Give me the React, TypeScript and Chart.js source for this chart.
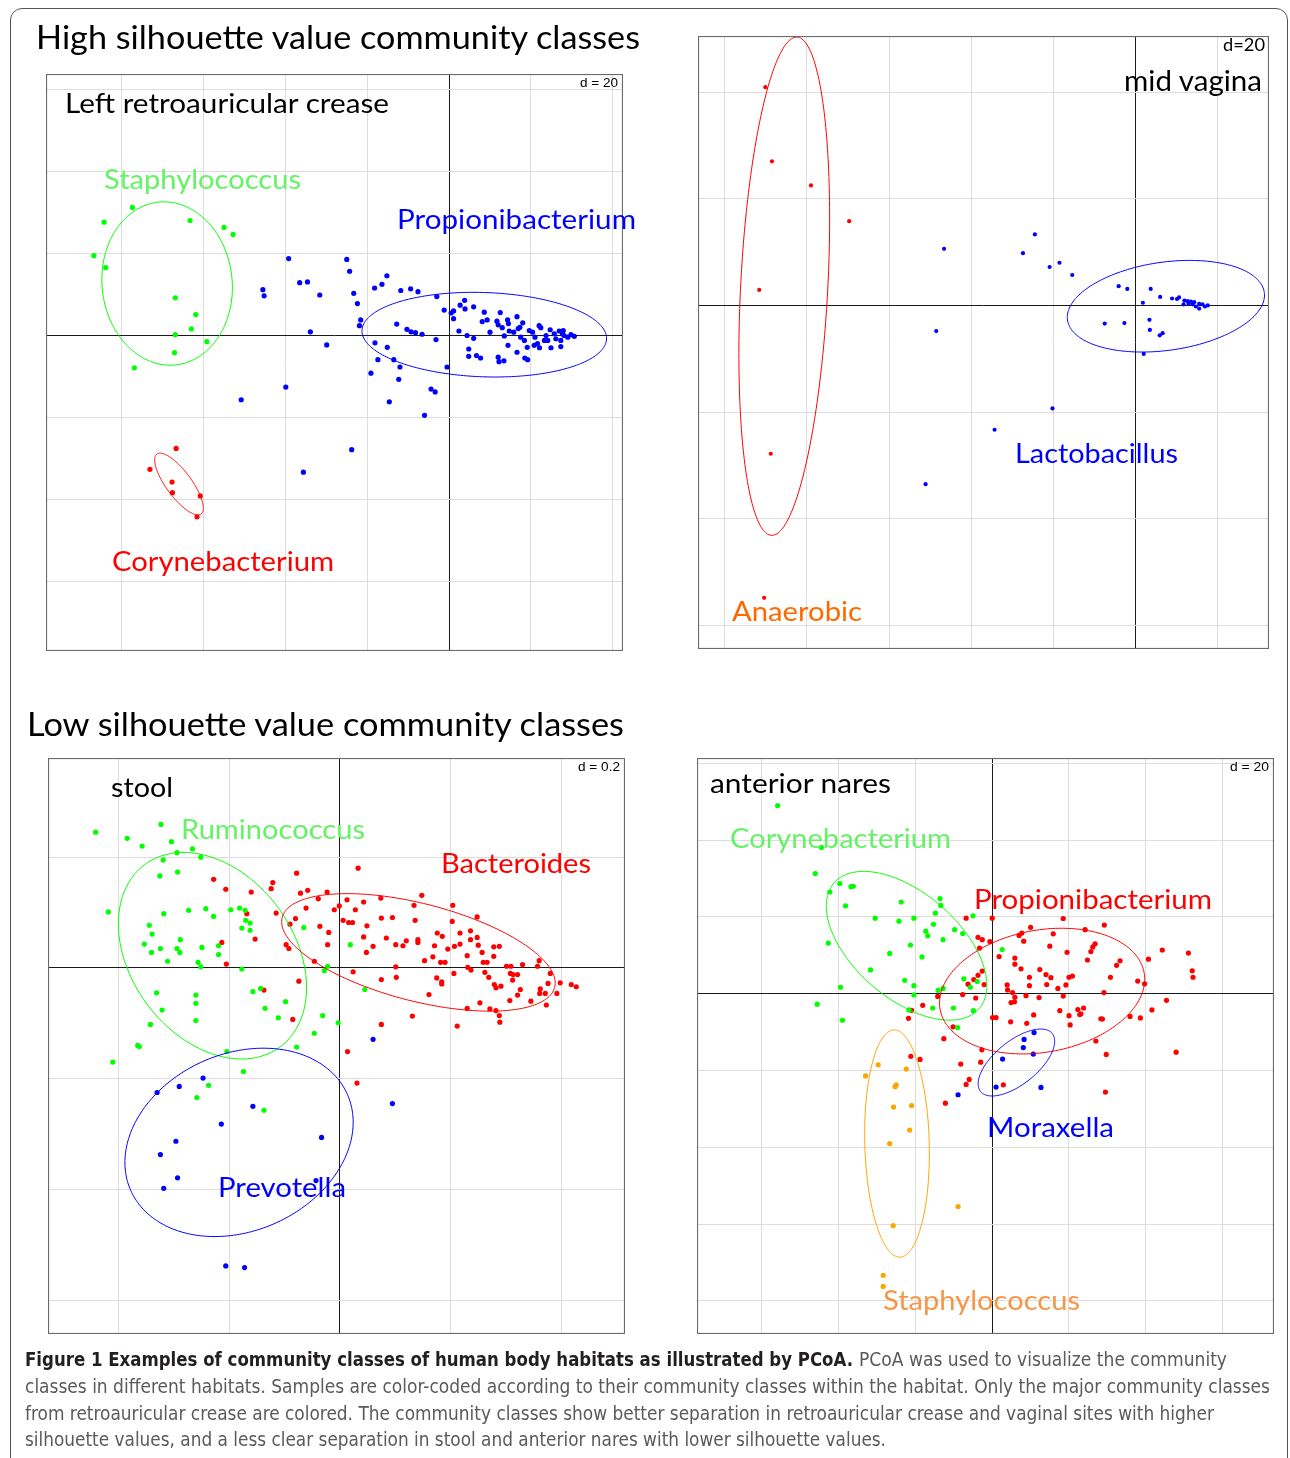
import React, { useEffect, useRef } from "react";
import { Chart, registerables } from "chart.js";

Chart.register(...registerables);

type Pt = [number, number];
type Ell = { cx: number; cy: number; a: number; b: number; angle: number; color: string };

// ---------------- DATA ----------------
// Panel 1: Left retroauricular crease (d = 20)
const retroStaphylococcus: Pt[] = [
  [-84.3, 27.7], [-77.4, 31.3], [-63.3, 28.1], [-55.0, 26.4], [-52.8, 24.7], [-86.8, 19.5], [-83.9, 16.6],
  [-66.9, 9.2], [-61.9, 5.1], [-63.0, 1.6], [-66.9, 0.2], [-59.2, -1.5], [-67.1, -4.2], [-76.9, -7.9],
];
const retroCorynebacterium: Pt[] = [
  [-66.7, -27.6], [-73.1, -32.7], [-67.7, -35.8], [-67.6, -38.4], [-60.8, -39.2], [-61.6, -44.3],
];
const retroPropionibacterium: Pt[] = [
  [-39.2, 18.8], [-25.0, 18.6], [-24.3, 15.7], [-45.5, 11.2], [-45.2, 9.7], [-36.5, 12.9], [-34.6, 13.1],
  [-31.6, 9.9], [-23.3, 10.3], [-22.4, 7.8], [-15.2, 14.6], [-16.4, 12.5], [-18.2, 11.6], [-11.8, 11.0],
  [-9.4, 11.4], [-7.6, 10.7], [-3.0, 9.5], [-21.6, 3.8], [-21.9, 2.4], [-33.9, 0.9], [-29.9, -2.3],
  [-12.8, 2.8], [-10.3, 1.5], [-9.3, 0.9], [-8.2, 0.7], [-6.6, 0.3], [-3.2, -1.0], [-18.1, -1.8],
  [-15.1, -2.9], [-17.4, -5.9], [-13.5, -5.9], [-12.0, -7.7], [-19.1, -9.2], [-12.3, -10.7], [-0.5, -7.7],
  [-4.4, -13.1], [-3.4, -13.8], [-14.6, -16.2], [-6.0, -19.5], [-39.9, -12.6], [-50.8, -15.7], [-35.6, -33.4],
  [-23.8, -27.9], [-1.2, 6.2], [0.5, 5.5], [1.1, 6.0], [1.1, 4.1], [2.7, 7.4], [3.8, 8.6], [3.9, 6.5],
  [6.0, 7.0], [8.6, 5.7], [9.3, 3.8], [8.1, 3.4], [12.5, 5.6], [11.7, 3.5], [12.0, 2.6], [14.3, 3.8],
  [14.5, 2.9], [16.6, 4.6], [18.0, 3.1], [2.4, 1.1], [4.4, 0], [6.0, -0.7], [10.0, 0.8], [13.0, 1.9],
  [13.5, -0.1], [14.7, 1.1], [15.8, 0.8], [16.9, 1.7], [17.3, 2.0], [17.5, -0.4], [18.4, -1.2], [19.1, -2.9],
  [19.6, 1.2], [20.4, 0.8], [21.0, -0.4], [21.6, -2.0], [22.1, -3.0], [22.0, 2.4], [22.4, 1.9], [23.7, 0],
  [24.1, -1.2], [24.7, 1.4], [24.9, -3.0], [25.7, 0.4], [26.1, -0.8], [26.9, 1.1], [27.3, -1.2], [27.3, -2.7],
  [28.1, 0], [29.0, -0.4], [29.8, 0.2], [30.6, -0.2], [27.9, 1.2], [27.7, 0.4], [23.3, -1.2], [20.8, -2.4],
  [14.4, -2.4], [16.6, -4.1], [4.8, -3.3], [4.8, -5.1], [6.7, -4.9], [7.7, -5.5], [12.0, -5.3], [12.2, -6.4],
  [13.4, -6.2], [18.5, -5.5], [19.2, -5.9],
];
const retroEllipses: Ell[] = [
  { cx: -68.9, cy: 12.7, a: 20.0, b: 15.9, angle: 96, color: "#00ff00" },
  { cx: -66.0, cy: -36.3, a: 9.1, b: 3.1, angle: -53.6, color: "#ff0000" },
  { cx: 8.6, cy: 0.2, a: 29.9, b: 10.3, angle: -2, color: "#0000ff" },
];

// Panel 2: mid vagina (d = 20)
const vagAnaerobic: Pt[] = [
  [-90.1, 40.9], [-88.5, 27.0], [-79.0, 22.5], [-69.7, 15.8], [-91.6, 2.9], [-88.8, -27.8], [-90.4, -54.8],
];
const vagLactobacillus: Pt[] = [
  [-46.6, 10.6], [-24.5, 13.3], [-27.4, 9.8], [-20.9, 7.2], [-18.5, 8.0], [-15.4, 5.7], [-48.5, -4.8],
  [-20.2, -19.3], [-34.3, -23.3], [-51.1, -33.5], [-4.1, 3.6], [-2.0, 3.1], [3.7, 3.1], [6.0, 1.6],
  [8.9, 1.3], [10.1, 1.2], [10.6, 1.5], [1.8, 0.5], [11.9, 0.9], [12.7, 0.8], [13.5, 0.7], [14.3, 0.6],
  [11.7, 0.2], [14.7, -0.2], [15.5, -0.6], [15.5, 0.3], [16.3, 0.2], [16.9, -0.2], [17.6, 0], [12.9, 0.3],
  [13.9, 0.2], [-7.5, -3.4], [-2.7, -3.3], [3.4, -2.7], [3.5, -4.6], [5.9, -5.6], [6.6, -5.2], [2.0, -9.1],
];
const vagEllipses: Ell[] = [
  { cx: -85.5, cy: 3.6, a: 46.8, b: 10.6, angle: 86.1, color: "#ff0000" },
  { cx: 7.4, cy: -0.15, a: 24.1, b: 8.3, angle: 5.6, color: "#0000ff" },
];

// Panel 3: stool (d = 0.2)
const stoolRuminococcus: Pt[] = [
  [-0.441, 0.245], [-0.384, 0.234], [-0.357, 0.22], [-0.323, 0.259], [-0.304, 0.228], [-0.294, 0.208],
  [-0.266, 0.215], [-0.251, 0.2], [-0.319, 0.195], [-0.325, 0.166], [-0.293, 0.173], [-0.418, 0.101],
  [-0.318, 0.098], [-0.273, 0.104], [-0.242, 0.107], [-0.228, 0.093], [-0.197, 0.105], [-0.181, 0.108],
  [-0.171, 0.104], [-0.17, 0.086], [-0.162, 0.081], [-0.177, 0.072], [-0.162, 0.068], [-0.344, 0.077],
  [-0.339, 0.061], [-0.353, 0.043], [-0.34, 0.028], [-0.324, 0.035], [-0.311, 0.012], [-0.288, 0.051],
  [-0.294, 0.035], [-0.289, 0.028], [-0.249, 0.037], [-0.256, 0.01], [-0.251, 0.002], [-0.219, 0.04],
  [-0.219, 0.024], [-0.177, -0.002], [-0.065, 0.073], [0.019, 0.042], [-0.028, -0.005], [-0.022, 0.003],
  [-0.331, -0.045], [-0.26, -0.049], [-0.26, -0.064], [-0.321, -0.076], [-0.342, -0.102], [-0.26, -0.095],
  [-0.157, -0.043], [-0.143, -0.037], [-0.135, -0.073], [-0.098, -0.061], [-0.111, -0.09], [-0.031, -0.086],
  [-0.046, -0.118], [-0.003, -0.099], [-0.078, -0.143], [-0.365, -0.14], [-0.362, -0.142], [-0.41, -0.17],
  [-0.204, -0.151], [-0.174, -0.187], [-0.237, -0.212], [-0.258, -0.234], [-0.137, -0.257], [0.045, -0.039],
];
const stoolBacteroides: Pt[] = [
  [-0.228, 0.16], [-0.206, 0.142], [-0.16, 0.137], [-0.168, 0.098], [-0.153, 0.052], [-0.213, 0.046],
  [-0.205, 0.007], [-0.121, 0.154], [-0.124, 0.143], [-0.078, 0.171], [-0.071, 0.135], [-0.058, 0.14],
  [-0.039, 0.125], [-0.023, 0.137], [-0.061, 0.108], [-0.115, 0.099], [-0.08, 0.089], [-0.09, 0.079],
  [-0.036, 0.075], [-0.02, 0.064], [-0.022, 0.042], [-0.097, 0.042], [-0.092, 0.035], [-0.046, 0.012],
  [-0.01, 0.105], [-0.001, 0.112], [0.013, 0.123], [0.028, 0.105], [0.006, 0.086], [0.016, 0.082],
  [0.023, 0.082], [0.033, 0.18], [0.024, -0.007], [-0.074, -0.024], [-0.137, -0.04], [-0.085, -0.093],
  [0.014, -0.151], [0.031, -0.208], [0.043, 0.119], [0.074, 0.126], [0.075, 0.09], [0.095, 0.091],
  [0.049, 0.076], [0.043, 0.056], [0.048, 0.028], [0.06, 0.039], [0.084, 0.054], [0.101, 0.042],
  [0.114, 0.04], [0.12, 0.049], [0.134, 0.113], [0.136, 0.086], [0.148, 0.131], [0.141, 0.051],
  [0.141, 0.046], [0.153, 0.013], [0.168, 0.02], [0.171, 0.04], [0.176, 0.063], [0.185, 0.057],
  [0.182, 0.01], [0.19, 0.01], [0.195, 0.034], [0.204, 0.113], [0.203, 0.084], [0.207, 0.039],
  [0.217, 0.063], [0.217, 0.043], [0.236, 0.067], [0.236, 0.051], [0.248, 0.092], [0.248, 0.055],
  [0.25, 0.041], [0.257, 0.028], [0.23, 0.022], [0.259, 0.01], [0.266, 0.01], [0.278, 0.021],
  [0.278, 0.038], [0.288, 0.039], [0.101, 0.002], [0.102, -0.017], [0.075, -0.021], [0.206, -0.01],
  [0.231, 0.001], [0.237, -0.004], [0.175, -0.018], [0.184, -0.025], [0.184, -0.029], [0.161, -0.048],
  [0.262, -0.008], [0.269, -0.017], [0.279, -0.03], [0.282, -0.036], [0.291, -0.033], [0.301, 0.003],
  [0.309, 0.003], [0.33, 0.006], [0.357, 0.003], [0.36, 0.013], [0.308, -0.01], [0.313, -0.012],
  [0.321, -0.012], [0.326, -0.039], [0.312, -0.022], [0.321, -0.049], [0.307, -0.059], [0.345, -0.06],
  [0.362, -0.038], [0.361, -0.046], [0.371, -0.046], [0.376, -0.028], [0.38, -0.01], [0.392, -0.046],
  [0.398, -0.027], [0.418, -0.03], [0.427, -0.034], [0.373, -0.067], [0.253, -0.063], [0.23, -0.073],
  [0.271, -0.074], [0.282, -0.077], [0.288, -0.086], [0.289, -0.098], [0.212, -0.105], [0.131, -0.087],
  [0.075, -0.102],
];
const stoolPrevotella: Pt[] = [
  [0.06, -0.129], [-0.33, -0.225], [-0.29, -0.214], [-0.247, -0.199], [-0.157, -0.25], [-0.214, -0.282],
  [-0.296, -0.313], [-0.324, -0.337], [-0.293, -0.379], [-0.318, -0.398], [-0.033, -0.306], [-0.043, -0.384],
  [-0.206, -0.538], [-0.172, -0.541], [0.095, -0.245],
];
const stoolEllipses: Ell[] = [
  { cx: -0.23, cy: 0.022, a: 0.205, b: 0.147, angle: -53.4, color: "#00ff00" },
  { cx: 0.142, cy: 0.028, a: 0.254, b: 0.088, angle: -14.4, color: "#ff0000" },
  { cx: -0.182, cy: -0.315, a: 0.214, b: 0.16, angle: 23.9, color: "#0000ff" },
];

// Panel 4: anterior nares (d = 20)
const naresCorynebacterium: Pt[] = [
  [-55.9, 49.0], [-44.5, 38.1], [-46.1, 31.3], [-39.7, 28.7], [-42.3, 26.5], [-36.8, 27.9], [-36.2, 28.0],
  [-38.2, 22.9], [-30.5, 19.7], [-23.7, 23.9], [-24.3, 18.9], [-20.4, 19.7], [-13.6, 24.8], [-13.4, 23.0],
  [-14.8, 21.0], [-15.3, 18.1], [-17.3, 16.3], [-16.8, 15.1], [-9.8, 16.7], [-7.7, 15.7], [-12.8, 14.1],
  [-5.0, 20.3], [-42.7, 13.2], [-21.3, 12.7], [-26.7, 10.5], [-18.3, 9.6], [-31.7, 6.2], [-39.5, 1.7],
  [-22.8, 3.5], [-20.4, 2.1], [-20.4, -0.3], [-14.1, 0.9], [-12.8, 1.4], [-7.4, 3.9], [-5.7, 1.7],
  [-3.9, 3.2], [2.6, 11.5], [-45.6, -2.7], [-39.0, -6.9], [-21.7, -4.2], [-15.5, -3.7], [-10.1, -3.7],
  [-4.9, -4.4], [-9.0, -8.8],
];
const naresPropionibacterium: Pt[] = [
  [-6.8, 19.7], [0, 19.7], [-3.7, 14.7], [-2.6, 14.1], [-0.6, 13.6], [1.8, 9.7], [-2.6, 5.9], [-3.7, 4.8],
  [-4.8, 3.7], [-6.3, 2.5], [-2.1, 2.4], [-7.7, -0.2], [-4.3, -1.1], [-14.2, -0.7], [-18.1, -3.0],
  [-21.0, -4.3], [-21.8, -6.4], [-10.2, -8.6], [-12.6, -11.7], [0.1, -6.2], [1.0, -6.2], [3.9, 2.3],
  [4.0, 1.0], [-2.7, -14.6], [-3.0, -17.8], [-8.2, -18.3], [-18.8, -17.1], [-21.2, -16.3], [-6.0, -22.3],
  [-6.8, -23.6], [2.9, -23.7], [-3.3, 11.9], [-12.2, -28.5], [7.0, 15.2], [7.7, 15.8], [8.2, 13.7],
  [10.0, 17.3], [15.9, 15.6], [18.5, 19.6], [24.2, 16.7], [29.2, 17.9], [15.0, 12.4], [19.5, 10.8],
  [26.2, 12.2], [26.8, 13.0], [25.7, 11.0], [24.8, 8.8], [32.4, 7.4], [33.3, 8.6], [5.9, 9.3], [5.9, 7.7],
  [7.5, 6.5], [12.4, 6.3], [14.0, 5.0], [15.3, 4.2], [9.7, 4.3], [14.2, 2.4], [17.1, 1.4], [19.2, 2.3],
  [20.0, 4.3], [20.9, 4.6], [9.7, 2.1], [5.3, 0.3], [5.9, -0.9], [5.8, -2.1], [4.9, -2.3], [8.8, -0.5],
  [12.2, -1.0], [18.5, -0.6], [29.1, 0.3], [30.8, 4.3], [37.9, 3.3], [39.7, 2.6], [40.7, 9.0], [44.3, 11.4],
  [51.1, 10.6], [52.1, 6.0], [52.3, 4.3], [45.4, -1.7], [41.6, -4.2], [38.6, -6.3], [35.9, -5.9],
  [28.3, -6.5], [28.7, -6.6], [23.8, -3.7], [22.3, -4.1], [22.8, -5.4], [23.1, -5.2], [20.0, -5.7],
  [20.3, -8.1], [17.6, -4.4], [10.8, -5.5], [9.0, -7.7], [4.8, -7.3], [27.0, -12.3], [29.7, -15.8],
  [47.9, -15.2], [29.5, -25.6],
];
const naresMoraxella: Pt[] = [
  [10.9, -10.1], [8.3, -11.9], [8.1, -14.0], [10.7, -15.7], [2.7, -17.0], [1.0, -24.3], [12.7, -24.4], [-8.9, -26.3],
];
const naresStaphylococcus: Pt[] = [
  [-29.7, -18.5], [-33.0, -21.4], [-22.4, -19.6], [-25.0, -23.7], [-25.3, -24.2], [-25.7, -29.5],
  [-21.0, -29.1], [-21.5, -35.5], [-26.7, -39.0], [-8.9, -55.4], [-25.8, -60.4], [-28.4, -73.3], [-28.4, -76.2],
];
const naresEllipses: Ell[] = [
  { cx: -22.3, cy: 12.5, a: 25.0, b: 13.7, angle: -40.9, color: "#00ff00" },
  { cx: 13.0, cy: 0.7, a: 27.0, b: 15.9, angle: 10.2, color: "#ff0000" },
  { cx: 6.3, cy: -17.9, a: 12.0, b: 5.6, angle: 39, color: "#0000ff" },
  { cx: -24.8, cy: -39.0, a: 29.6, b: 8.4, angle: 91.5, color: "#ffa500" },
];

// ---------------- LAYOUT ----------------
type Series = { points: Pt[]; color: string };
type PanelSpec = {
  left: number; top: number; width: number; height: number;
  xMin: number; xMax: number; yMin: number; yMax: number; step: number; radius: number;
  series: Series[]; ellipses: Ell[];
};

const PANELS: PanelSpec[] = [
  {
    left: 46, top: 74, width: 577, height: 577, xMin: -98.5, xMax: 42.5, yMin: -77.1, yMax: 63.9, step: 20, radius: 2.6,
    series: [
      { points: retroStaphylococcus, color: "#00ff00" },
      { points: retroCorynebacterium, color: "#ff0000" },
      { points: retroPropionibacterium, color: "#0000ff" },
    ],
    ellipses: retroEllipses,
  },
  {
    left: 698, top: 36, width: 571, height: 613, xMin: -106.5, xMax: 32.5, yMin: -64.4, yMax: 50.5, step: 20, radius: 2.1,
    series: [
      { points: vagAnaerobic, color: "#ff0000" },
      { points: vagLactobacillus, color: "#0000ff" },
    ],
    ellipses: vagEllipses,
  },
  {
    left: 48, top: 758, width: 577, height: 576, xMin: -0.527, xMax: 0.515, yMin: -0.661, yMax: 0.379, step: 0.2, radius: 2.6,
    series: [
      { points: stoolRuminococcus, color: "#00ff00" },
      { points: stoolBacteroides, color: "#ff0000" },
      { points: stoolPrevotella, color: "#0000ff" },
    ],
    ellipses: stoolEllipses,
  },
  {
    left: 697, top: 758, width: 577, height: 576, xMin: -76.9, xMax: 73.4, yMin: -88.6, yMax: 61.4, step: 20, radius: 2.6,
    series: [
      { points: naresCorynebacterium, color: "#00ff00" },
      { points: naresPropionibacterium, color: "#ff0000" },
      { points: naresMoraxella, color: "#0000ff" },
      { points: naresStaphylococcus, color: "#ffa500" },
    ],
    ellipses: naresEllipses,
  },
];

type Label = { text: string; x: number; y: number; w: number; size: number; color: string; family?: string };
const LABELS: Label[] = [
  { text: "High silhouette value community classes", x: 36, y: 49, w: 604, size: 32, color: "#000" },
  { text: "Low silhouette value community classes", x: 27, y: 736, w: 597, size: 32, color: "#000" },
  { text: "Left retroauricular crease", x: 65, y: 113, w: 324, size: 27, color: "#000" },
  { text: "Staphylococcus", x: 104, y: 189, w: 197, size: 27, color: "#66f266" },
  { text: "Propionibacterium", x: 397, y: 229, w: 239, size: 27, color: "#0000ff" },
  { text: "Corynebacterium", x: 112, y: 571, w: 222, size: 27, color: "#ff0000" },
  { text: "mid vagina", x: 1124, y: 91, w: 138, size: 28, color: "#000" },
  { text: "Lactobacillus", x: 1015, y: 463, w: 163, size: 27, color: "#0000ff" },
  { text: "Anaerobic", x: 732, y: 621, w: 130, size: 27, color: "#ff6a00" },
  { text: "stool", x: 111, y: 797, w: 62, size: 27, color: "#000" },
  { text: "Ruminococcus", x: 181, y: 839, w: 184, size: 27, color: "#66f266" },
  { text: "Bacteroides", x: 441, y: 873, w: 150, size: 27, color: "#ff0000" },
  { text: "Prevotella", x: 218, y: 1197, w: 128, size: 27, color: "#0000ff" },
  { text: "anterior nares", x: 710, y: 793, w: 181, size: 27, color: "#000" },
  { text: "Corynebacterium", x: 730, y: 848, w: 221, size: 27, color: "#66f266" },
  { text: "Propionibacterium", x: 974, y: 909, w: 238, size: 27, color: "#ff0000" },
  { text: "Moraxella", x: 987, y: 1137, w: 127, size: 27, color: "#0000ff" },
  { text: "Staphylococcus", x: 883, y: 1310, w: 197, size: 27, color: "#f79646" },
  { text: "d = 20", x: 580, y: 87, w: 38, size: 12, color: "#000", family: "Liberation Sans, Arial, sans-serif" },
  { text: "d=20", x: 1223, y: 51, w: 42, size: 17, color: "#000", family: "Lato, sans-serif" },
  { text: "d = 0.2", x: 578, y: 771, w: 42, size: 12, color: "#000", family: "Liberation Sans, Arial, sans-serif" },
  { text: "d = 20", x: 1230, y: 771, w: 39, size: 12, color: "#000", family: "Liberation Sans, Arial, sans-serif" },
];

const CAPTION_BOLD = "Figure 1 Examples of community classes of human body habitats as illustrated by PCoA.";
const CAPTION_LINES: { text: string; x: number; y: number; w: number }[] = [
  { text: "PCoA was used to visualize the community", x: 859, y: 1366, w: 368 },
  { text: "classes in different habitats. Samples are color-coded according to their community classes within the habitat. Only the major community classes", x: 25, y: 1393, w: 1245 },
  { text: "from retroauricular crease are colored. The community classes show better separation in retroauricular crease and vaginal sites with higher", x: 25, y: 1420, w: 1189 },
  { text: "silhouette values, and a less clear separation in stool and anterior nares with lower silhouette values.", x: 25, y: 1446, w: 861 },
];

function makeEllipsePlugin(items: Ell[]) {
  return {
    id: "ellipses",
    afterDatasetsDraw(chart: any) {
      const { ctx, chartArea, scales } = chart;
      const xs = scales.x;
      const ys = scales.y;
      ctx.save();
      ctx.beginPath();
      ctx.rect(chartArea.left, chartArea.top, chartArea.right - chartArea.left, chartArea.bottom - chartArea.top);
      ctx.clip();
      for (const e of items) {
        const th = (e.angle * Math.PI) / 180;
        ctx.beginPath();
        const n = 240;
        for (let i = 0; i <= n; i++) {
          const t = (i / n) * Math.PI * 2;
          const dx = e.a * Math.cos(t);
          const dy = e.b * Math.sin(t);
          const x = e.cx + dx * Math.cos(th) - dy * Math.sin(th);
          const y = e.cy + dx * Math.sin(th) + dy * Math.cos(th);
          const px = xs.getPixelForValue(x);
          const py = ys.getPixelForValue(y);
          if (i === 0) ctx.moveTo(px, py);
          else ctx.lineTo(px, py);
        }
        ctx.closePath();
        ctx.strokeStyle = e.color;
        ctx.lineWidth = 1;
        ctx.stroke();
      }
      ctx.restore();
    },
  };
}

const framePlugin = {
  id: "frame",
  afterDraw(chart: any) {
    const { ctx, chartArea } = chart;
    ctx.save();
    ctx.strokeStyle = "#6b6b6b";
    ctx.lineWidth = 1.2;
    ctx.strokeRect(chartArea.left + 0.5, chartArea.top + 0.5, chartArea.right - chartArea.left - 1, chartArea.bottom - chartArea.top - 1);
    ctx.restore();
  },
};

function Panel({ spec }: { spec: PanelSpec }) {
  const ref = useRef<HTMLCanvasElement | null>(null);
  useEffect(() => {
    if (!ref.current) return;
    const eps = spec.step * 1e-6;
    const axis = (min: number, max: number) => ({
      type: "linear" as const,
      min,
      max,
      ticks: { display: false, stepSize: spec.step, includeBounds: false },
      grid: {
        drawTicks: false,
        lineWidth: 1,
        color: (c: any) => (Math.abs(c.tick.value) < eps ? "#1a1a1a" : "#dddddd"),
      },
      border: { display: false },
    });
    const chart = new Chart(ref.current, {
      type: "scatter",
      data: {
        datasets: spec.series.map((s) => ({
          data: s.points.map(([x, y]) => ({ x, y })),
          backgroundColor: s.color,
          borderColor: s.color,
          pointRadius: spec.radius,
          pointHoverRadius: spec.radius,
          pointBorderWidth: 0,
        })),
      },
      options: {
        animation: false,
        responsive: false,
        maintainAspectRatio: false,
        devicePixelRatio: 1,
        layout: { padding: 0, autoPadding: false },
        events: [],
        plugins: { legend: { display: false }, tooltip: { enabled: false } },
        scales: { x: axis(spec.xMin, spec.xMax), y: axis(spec.yMin, spec.yMax) },
      },
      plugins: [makeEllipsePlugin(spec.ellipses), framePlugin],
    } as any);
    return () => chart.destroy();
  }, [spec]);
  return (
    <canvas
      ref={ref}
      width={spec.width}
      height={spec.height}
      style={{ position: "absolute", left: spec.left, top: spec.top, width: spec.width, height: spec.height }}
    />
  );
}

export default function App() {
  return (
    <div style={{ position: "absolute", left: 0, top: 0, width: 1290, height: 1458, background: "#fff", overflow: "hidden" }}>
      <div
        style={{
          position: "absolute", left: 10, top: 8, width: 1278, height: 1480,
          border: "1px solid #555", borderRadius: 12, boxSizing: "border-box",
        }}
      />
      {PANELS.map((p, i) => (
        <Panel key={i} spec={p} />
      ))}
      <svg width={1290} height={1458} style={{ position: "absolute", left: 0, top: 0, pointerEvents: "none" }}>
        {LABELS.map((l, i) => (
          <text
            key={i}
            x={l.x}
            y={l.y}
            fontFamily={l.family || "Lato, 'Open Sans', sans-serif"}
            fontSize={l.size}
            fill={l.color}
            textLength={l.w}
            lengthAdjust="spacingAndGlyphs"
          >
            {l.text}
          </text>
        ))}
        <text
          x={25}
          y={1366}
          fontFamily="'Liberation Sans Narrow', 'DejaVu Sans Condensed', sans-serif"
          fontWeight="bold"
          fontSize={19}
          fill="#231f20"
          textLength={828}
          lengthAdjust="spacingAndGlyphs"
        >
          {CAPTION_BOLD}
        </text>
        {CAPTION_LINES.map((c, i) => (
          <text
            key={"c" + i}
            x={c.x}
            y={c.y}
            fontFamily="'Liberation Sans Narrow', 'DejaVu Sans Condensed', sans-serif"
            fontSize={19}
            fill="#5a5a5c"
            textLength={c.w}
            lengthAdjust="spacingAndGlyphs"
          >
            {c.text}
          </text>
        ))}
      </svg>
    </div>
  );
}
